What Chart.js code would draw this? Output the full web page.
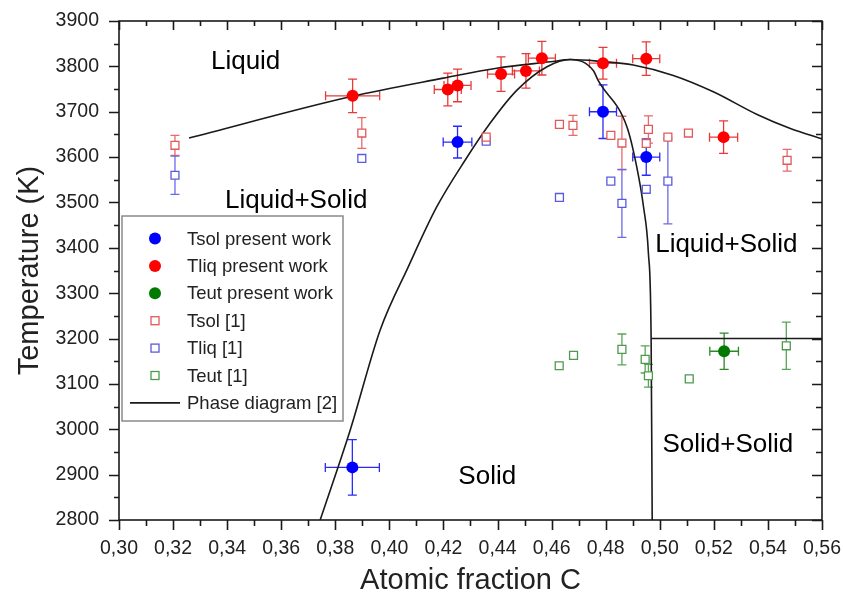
<!DOCTYPE html>
<html><head><meta charset="utf-8">
<script src="https://cdn.jsdelivr.net/npm/chart.js@4.4.0/dist/chart.umd.min.js"></script>
<style>html,body{margin:0;padding:0;background:#fff}</style>
</head><body>
<canvas id="c" width="843" height="596"></canvas>
<script>
// ---------- data ----------
const xMin = 0.30, xMax = 0.56, yMin = 2800, yMax = 3900;

// Tsol present work (blue filled)
const tsolPresentX    = [0.3863, 0.4252, 0.4790, 0.4950];
const tsolPresentY    = [2916, 3633, 3700, 3600];
const tsolPresentXErr = [0.010, 0.0053, 0.005, 0.005];
const tsolPresentYErr = [61, 35, 59, 40];

// Tliq present work (red filled)
const tliqPresentX    = [0.3864, 0.4216, 0.4252, 0.4413, 0.4505, 0.4564, 0.4790, 0.4950, 0.5236];
const tliqPresentY    = [3735, 3749, 3758, 3783, 3790, 3818, 3807, 3817, 3644];
const tliqPresentXErr = [0.010, 0.005, 0.005, 0.005, 0.005, 0.005, 0.005, 0.005, 0.0052];
const tliqPresentYErr = [37, 36, 36, 38, 38, 37, 35, 37, 36];

// Teut present work (green filled)
const teutPresentX    = [0.5238];
const teutPresentY    = [3172];
const teutPresentXErr = [0.0053];
const teutPresentYErr = [40];

// Tsol [1] (red open squares)
const tsolRefX    = [0.3207, 0.3898, 0.4358, 0.4629, 0.4679, 0.4819, 0.4860, 0.4958, 0.4950, 0.5030, 0.5106, 0.5471];
const tsolRefY    = [3626, 3653, 3644, 3672, 3670, 3648, 3631, 3661, 3630, 3644, 3653, 3593];
const tsolRefYErr = [22, 34, 0, 0, 22, 0, 59, 30, 0, 0, 0, 24];

// Tliq [1] (blue open squares)
const tliqRefX    = [0.3207, 0.3898, 0.4358, 0.4629, 0.4819, 0.4860, 0.4950, 0.5030];
const tliqRefY    = [3560, 3597, 3635, 3511, 3547, 3498, 3529, 3547];
const tliqRefYErr = [42, 0, 0, 0, 0, 75, 0, 94];

// Teut [1] (green open squares)
const teutRefX    = [0.4628, 0.4681, 0.4860, 0.4946, 0.4958, 0.5109, 0.5468];
const teutRefY    = [3140, 3163, 3176, 3154, 3118, 3111, 3184];
const teutRefYErr = [0, 0, 34, 30, 25, 0, 52];

// Phase diagram [2]
const liquidusX = [0.3259, 0.3855, 0.4199, 0.4397, 0.4595, 0.4669, 0.4780, 0.4902, 0.5050, 0.5198, 0.5360, 0.5483, 0.5600];
const liquidusY = [3642, 3733, 3774, 3796, 3810, 3815, 3811, 3803, 3780, 3744, 3694, 3663, 3640];
const solidusX  = [0.3744, 0.3855, 0.3966, 0.4069, 0.4175, 0.4280, 0.4373, 0.4471, 0.4583, 0.4669, 0.4754, 0.4772, 0.4879, 0.4915, 0.4940, 0.4958, 0.4968, 0.4972];
const solidusY  = [2800, 2998, 3219, 3357, 3490, 3593, 3675, 3747, 3799, 3815, 3791, 3769, 3666, 3578, 3490, 3388, 3201, 2800];
const eutecticX = [0.4968, 0.5600];
const eutecticY = [3200, 3200];

// region labels (data coordinates of the text's left baseline)
const regionText = ['Liquid', 'Liquid+Solid', 'Liquid+Solid', 'Solid+Solid', 'Solid'];
const regionX    = [0.3340, 0.3392, 0.4983, 0.5010, 0.4255];
const regionY    = [3795, 3487, 3391, 2949, 2879];

// ---------- helpers ----------
const pts = (xs, ys) => xs.map((x, i) => ({x, y: ys[i]}));
const FONT = "'Liberation Sans', Arial, sans-serif";

const datasets = [
  {label:'Tsol present work', data: pts(tsolPresentX, tsolPresentY), xErr: tsolPresentXErr, yErr: tsolPresentYErr,
   pointStyle:'circle', pointRadius:6, backgroundColor:'#0000ff', borderColor:'#0000ff', borderWidth:0, errColor:'#2a2aff', order:1},
  {label:'Tliq present work', data: pts(tliqPresentX, tliqPresentY), xErr: tliqPresentXErr, yErr: tliqPresentYErr,
   pointStyle:'circle', pointRadius:6, backgroundColor:'#ff0000', borderColor:'#ff0000', borderWidth:0, errColor:'#e83a3a', order:1},
  {label:'Teut present work', data: pts(teutPresentX, teutPresentY), xErr: teutPresentXErr, yErr: teutPresentYErr,
   pointStyle:'circle', pointRadius:6, backgroundColor:'#007a00', borderColor:'#007a00', borderWidth:0, errColor:'#2a8a2a', order:1},
  {label:'Tsol [1]', data: pts(tsolRefX, tsolRefY), yErr: tsolRefYErr,
   pointStyle:'rect', pointRadius:5.6, backgroundColor:'#ffffff', borderColor:'#e05a5a', borderWidth:1.3, errColor:'#e86a6a', order:2},
  {label:'Tliq [1]', data: pts(tliqRefX, tliqRefY), yErr: tliqRefYErr,
   pointStyle:'rect', pointRadius:5.6, backgroundColor:'#ffffff', borderColor:'#5a5ae0', borderWidth:1.3, errColor:'#6a6ae8', order:2},
  {label:'Teut [1]', data: pts(teutRefX, teutRefY), yErr: teutRefYErr,
   pointStyle:'rect', pointRadius:5.6, backgroundColor:'#ffffff', borderColor:'#4e9a4e', borderWidth:1.3, errColor:'#5aa55a', order:2},
  {label:'Phase diagram [2]', data: pts(liquidusX, liquidusY), showLine:true, pointRadius:0, borderColor:'#1a1a1a', borderWidth:1.6, cubicInterpolationMode:'monotone', fill:false, order:3, isLine:true},
  {label:'Phase diagram [2]', data: pts(solidusX, solidusY), showLine:true, pointRadius:0, borderColor:'#1a1a1a', borderWidth:1.6, cubicInterpolationMode:'monotone', fill:false, order:3, isLine:true, legendSkip:true},
  {label:'Phase diagram [2]', data: pts(eutecticX, eutecticY), showLine:true, pointRadius:0, borderColor:'#1a1a1a', borderWidth:1.6, tension:0, fill:false, order:3, isLine:true, legendSkip:true}
];

// ---------- plugins ----------
const errorBars = {
  id:'errorBars',
  beforeDatasetsDraw(chart){
    const {ctx, scales:{x, y}} = chart;
    ctx.save();
    chart.data.datasets.forEach(ds => {
      if (!ds.yErr && !ds.xErr) return;
      ctx.strokeStyle = ds.errColor; ctx.lineWidth = 1.3;
      ds.data.forEach((p, i) => {
        const px = x.getPixelForValue(p.x), py = y.getPixelForValue(p.y);
        const ye = ds.yErr ? ds.yErr[i] : 0, xe = ds.xErr ? ds.xErr[i] : 0;
        ctx.beginPath();
        if (ye) {
          const y1 = y.getPixelForValue(p.y + ye), y2 = y.getPixelForValue(p.y - ye);
          ctx.moveTo(px, y1); ctx.lineTo(px, y2);
          ctx.moveTo(px - 4.5, y1); ctx.lineTo(px + 4.5, y1);
          ctx.moveTo(px - 4.5, y2); ctx.lineTo(px + 4.5, y2);
        }
        if (xe) {
          const x1 = x.getPixelForValue(p.x - xe), x2 = x.getPixelForValue(p.x + xe);
          ctx.moveTo(x1, py); ctx.lineTo(x2, py);
          ctx.moveTo(x1, py - 4.5); ctx.lineTo(x1, py + 4.5);
          ctx.moveTo(x2, py - 4.5); ctx.lineTo(x2, py + 4.5);
        }
        ctx.stroke();
      });
    });
    ctx.restore();
  }
};

const frame = {
  id:'frame',
  afterDraw(chart){
    const {ctx, chartArea:a, scales:{x, y}} = chart;
    ctx.save();
    ctx.strokeStyle = '#1a1a1a'; ctx.lineWidth = 1.6;
    ctx.strokeRect(a.left, a.top, a.right - a.left, a.bottom - a.top);
    ctx.beginPath();
    for (let k = 0; k <= 26; k++) {
      const v = xMin + k * 0.01, px = Math.round(x.getPixelForValue(v)) + 0.5;
      const major = k % 2 === 0;
      ctx.moveTo(px, a.bottom); ctx.lineTo(px, a.bottom + (major ? 10 : 6));
      ctx.moveTo(px, a.top); ctx.lineTo(px, a.top + (major ? 9 : 5));
    }
    for (let k = 0; k <= 22; k++) {
      const v = yMin + k * 50, py = Math.round(y.getPixelForValue(v)) + 0.5;
      const major = k % 2 === 0;
      ctx.moveTo(a.left, py); ctx.lineTo(a.left - (major ? 10 : 5), py);
      ctx.moveTo(a.right, py); ctx.lineTo(a.right - (major ? 10 : 6), py);
    }
    ctx.stroke();

    // region labels
    ctx.fillStyle = '#000'; ctx.font = '26px ' + FONT; ctx.textAlign = 'left'; ctx.textBaseline = 'alphabetic';
    regionText.forEach((t, i) => ctx.fillText(t, x.getPixelForValue(regionX[i]), y.getPixelForValue(regionY[i])));

    // legend box
    const bx = 122, by = 216, bw = 221, bh = 205, rowH = 27.4;
    ctx.fillStyle = '#fff'; ctx.fillRect(bx, by, bw, bh);
    ctx.strokeStyle = '#8a8a8a'; ctx.lineWidth = 1.5; ctx.strokeRect(bx, by, bw, bh);
    ctx.font = '18.5px ' + FONT; ctx.textBaseline = 'middle';
    let row = 0;
    chart.data.datasets.forEach(ds => {
      if (ds.legendSkip) return;
      const cy = by + 22.5 + row * rowH, cx = 155;
      if (ds.isLine) {
        ctx.strokeStyle = ds.borderColor; ctx.lineWidth = 1.6;
        ctx.beginPath(); ctx.moveTo(130, cy); ctx.lineTo(180, cy); ctx.stroke();
      } else if (ds.pointStyle === 'circle') {
        ctx.fillStyle = ds.backgroundColor; ctx.beginPath(); ctx.arc(cx, cy, 6, 0, Math.PI * 2); ctx.fill();
      } else {
        ctx.strokeStyle = ds.borderColor; ctx.lineWidth = 1.3; ctx.strokeRect(cx - 4, cy - 4, 8, 8);
      }
      ctx.fillStyle = '#222'; ctx.fillText(ds.label, 187, cy + 1);
      row++;
    });
    ctx.restore();
  }
};

const noPad = s => { s.paddingLeft = 0; s.paddingRight = 0; s.paddingTop = 0; s.paddingBottom = 0; };

new Chart(document.getElementById('c'), {
  type:'scatter',
  data:{datasets},
  options:{
    responsive:false, animation:false, devicePixelRatio:1,
    layout:{padding:{top:21, right:21, left:0, bottom:0}},
    plugins:{legend:{display:false}, tooltip:{enabled:false}},
    scales:{
      x:{type:'linear', min:xMin, max:xMax,
         grid:{display:false, drawTicks:false}, border:{display:false},
         ticks:{stepSize:0.02, padding:17, color:'#222', font:{family:FONT, size:19.5},
                callback:v => v.toFixed(2).replace('.', ',')},
         title:{display:true, text:'Atomic fraction C', color:'#222', font:{family:FONT, size:29, lineHeight:1}, padding:{top:0, bottom:1}},
         afterFit:s => { s.height = 76; noPad(s); }},
      y:{type:'linear', min:yMin, max:yMax,
         grid:{display:false, drawTicks:false}, border:{display:false},
         ticks:{stepSize:100, padding:20, color:'#222', font:{family:FONT, size:19.5},
                callback:v => String(v)},
         title:{display:true, text:'Temperature (K)', color:'#222', font:{family:FONT, size:29, lineHeight:1}, padding:{top:15, bottom:0}},
         afterFit:s => { s.width = 119; noPad(s); }}
    }
  },
  plugins:[errorBars, frame]
});
</script>
</body></html>
